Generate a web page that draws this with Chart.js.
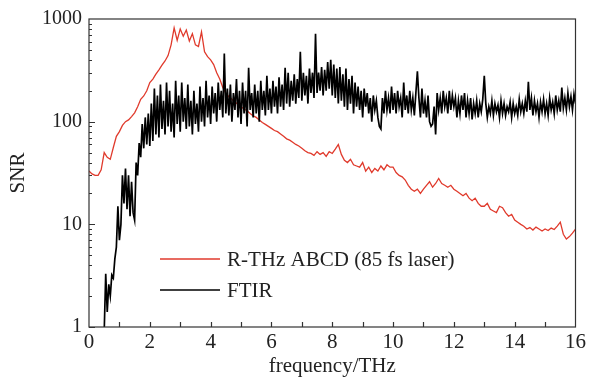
<!DOCTYPE html>
<html>
<head>
<meta charset="utf-8">
<script src="https://cdn.jsdelivr.net/npm/chart.js@4"></script>
<style>
  html, body { margin: 0; padding: 0; background: #fff; }
  canvas { display: block; }
</style>
</head>
<body>
<canvas id="snrChart" width="589" height="390"></canvas>
<script>
// Series labels
const seriesNames = ['R-THz ABCD (85 fs laser)', 'FTIR'];

// R-THz ABCD: sampled every 0.1 THz from 0 to 16 THz
const abcdStart = 0;
const abcdStep = 0.1;
const abcdSnr = [
  33, 31, 30, 30, 34, 50, 45, 43, 56, 72,
  80, 92, 100, 104, 112, 122, 140, 165, 178, 200,
  240, 260, 290, 320, 355, 390, 440, 560, 820, 620,
  800, 680, 780, 610, 720, 560, 540, 750, 480, 430,
  400, 360, 300, 260, 215, 190, 175, 165, 155, 148,
  140, 133, 128, 120, 114, 110, 104, 98, 94, 90,
  86, 82, 80, 76, 72, 68, 66, 63, 60, 58,
  55, 52, 50, 49, 47, 51, 48, 50, 46, 51,
  49, 54, 60, 48, 42, 40, 43, 38, 37, 36,
  40, 33, 36, 32, 35, 33, 37, 34, 38, 36,
  36, 32, 30, 29, 27, 24, 22, 21, 22, 20,
  22, 24, 26, 23, 25, 28, 25, 24, 23, 24,
  22, 21, 20, 19, 20, 18, 17, 18, 16, 15,
  15, 16, 14, 13.5, 13, 15, 14.5, 13, 12, 12.5,
  11, 10.5, 10, 9.6, 9, 9.3, 8.8, 9.4, 9, 8.6,
  9, 8.7, 9.2, 8.9, 9.6, 10.5, 8, 7.2, 7.6, 8.2,
  9
];

// FTIR: sampled every 0.05 THz from 0.5 to 16 THz
const ftirStart = 0.5;
const ftirStep = 0.05;
const ftirSnr = [
  0.9, 3.3, 1.4, 2.6, 2.0, 3.2, 3.0, 4.6, 6.0, 15,
  7, 10, 30, 16, 35, 14, 30, 12, 26, 13,
  11, 40, 30, 62, 45, 95, 55, 110, 60, 120,
  58, 150, 65, 210, 75, 180, 70, 230, 85, 160,
  75, 240, 90, 200, 80, 150, 70, 250, 95, 180,
  80, 240, 100, 170, 85, 230, 90, 160, 75, 200,
  95, 150, 80, 220, 100, 170, 90, 250, 110, 180,
  95, 220, 120, 190, 100, 240, 130, 200, 110, 460,
  120, 210, 115, 230, 100, 190, 130, 260, 110, 200,
  95, 240, 120, 200, 90, 335, 130, 190, 110, 230,
  120, 200, 100, 250, 130, 200, 115, 280, 130, 210,
  120, 250, 140, 220, 120, 270, 140, 230, 130, 335,
  150, 300, 140, 250, 160, 290, 150, 260, 170, 480,
  160, 300, 180, 280, 150, 330, 190, 300, 170, 720,
  190, 300, 200, 340, 180, 320, 200, 380, 210, 400,
  180, 360, 170, 330, 150, 340, 160, 290, 140, 330,
  130, 260, 150, 280, 120, 240, 140, 220, 130, 200,
  110, 210, 140, 190, 120, 170, 100, 180, 130, 160,
  110, 90, 85, 170, 120, 200, 130, 170, 120, 220,
  130, 190, 120, 200, 140, 170, 110, 240, 130, 180,
  120, 200, 130, 170, 115, 190, 310, 170, 110, 210,
  120, 160, 110, 180, 100, 90, 95, 140, 75, 190,
  130, 170, 120, 200, 140, 170, 120, 200, 130, 180,
  140, 170, 110, 160, 120, 180, 130, 190, 110, 160,
  120, 170, 105, 150, 120, 160, 110, 150, 125, 165,
  280, 150, 110, 140, 120, 160, 115, 150, 125, 145,
  110, 160, 120, 150, 115, 140, 125, 155, 110, 150,
  120, 140, 115, 165, 125, 150, 120, 160, 125, 245,
  130, 170, 115, 160, 125, 150, 110, 155, 125, 165,
  120, 150, 115, 170, 130, 155, 120, 180, 130, 160,
  125, 215, 135, 170, 130, 190, 140, 175, 130, 185,
  150
];

// Axis ticks
const xTickLabels = [0, 2, 4, 6, 8, 10, 12, 14, 16];
const yTickLabels = [1, 10, 100, 1000];

const toPoints = (start, step, values) =>
  values.map((v, i) => ({ x: +(start + i * step).toFixed(2), y: v }));

const serifFont = "'Liberation Serif', 'Times New Roman', serif";

// Box frame, inner ticks and in-plot legend
const frameAndLegend = {
  id: 'frameAndLegend',
  afterDraw(chart) {
    const { ctx, chartArea: a, scales: { x, y } } = chart;
    ctx.save();
    ctx.strokeStyle = '#333';
    ctx.lineWidth = 1.2;
    ctx.strokeRect(a.left, a.top, a.right - a.left, a.bottom - a.top);

    ctx.beginPath();
    for (let v = 1; v < 16; v++) {
      const px = Math.round(x.getPixelForValue(v)) + 0.5;
      ctx.moveTo(px, a.bottom);
      ctx.lineTo(px, a.bottom - 5);
    }
    for (let d = 1; d < 1000; d *= 10) {
      for (let m = 1; m <= 9; m++) {
        const py = Math.round(y.getPixelForValue(d * m)) + 0.5;
        const len = m === 1 ? 6 : 3;
        ctx.moveTo(a.left, py);
        ctx.lineTo(a.left + len, py);
      }
    }
    ctx.stroke();

    // legend
    ctx.font = '21px ' + serifFont;
    ctx.textBaseline = 'middle';
    ctx.fillStyle = '#222';
    chart.data.datasets.forEach((ds, i) => {
      const ly = 259 + i * 31;
      ctx.strokeStyle = ds.borderColor;
      ctx.lineWidth = 1.5;
      ctx.beginPath();
      ctx.moveTo(160, ly);
      ctx.lineTo(220, ly);
      ctx.stroke();
      ctx.fillText(ds.label, 227, ly + 1);
    });
    ctx.restore();
  }
};

new Chart(document.getElementById('snrChart').getContext('2d'), {
  type: 'line',
  data: {
    datasets: [
      {
        label: seriesNames[0],
        data: toPoints(abcdStart, abcdStep, abcdSnr),
        borderColor: '#e03a2c',
        borderWidth: 1.3,
        pointRadius: 0,
        order: 2
      },
      {
        label: seriesNames[1],
        data: toPoints(ftirStart, ftirStep, ftirSnr),
        borderColor: '#000000',
        borderWidth: 1.7,
        pointRadius: 0,
        order: 1
      }
    ]
  },
  options: {
    responsive: false,
    animation: false,
    devicePixelRatio: 1,
    layout: { padding: { top: 18, right: 0, left: 6, bottom: 11 } },
    plugins: { legend: { display: false }, tooltip: { enabled: false } },
    scales: {
      x: {
        type: 'linear',
        min: 0,
        max: 16,
        grid: { display: false, drawTicks: false },
        border: { display: false },
        afterBuildTicks: scale => { scale.ticks = xTickLabels.map(v => ({ value: v })); },
        ticks: { color: '#222', padding: 3, font: { family: serifFont, size: 21 }, maxRotation: 0 },
        title: {
          display: true,
          text: 'frequency/THz',
          color: '#222',
          font: { family: serifFont, size: 21 },
          padding: { top: 0, bottom: 0 }
        },
        afterFit: scale => { scale.height = 52; }
      },
      y: {
        type: 'logarithmic',
        min: 1,
        max: 1000,
        grid: { display: false, drawTicks: false },
        border: { display: false },
        afterBuildTicks: scale => { scale.ticks = yTickLabels.map(v => ({ value: v })); },
        ticks: {
          color: '#222',
          padding: 7,
          font: { family: serifFont, size: 20 },
          callback: v => String(v)
        },
        title: {
          display: true,
          text: 'SNR',
          color: '#222',
          font: { family: serifFont, size: 21 },
          padding: { top: 0, bottom: 0 }
        },
        afterFit: scale => { scale.width = 83; }
      }
    }
  },
  plugins: [frameAndLegend]
});
</script>
</body>
</html>
